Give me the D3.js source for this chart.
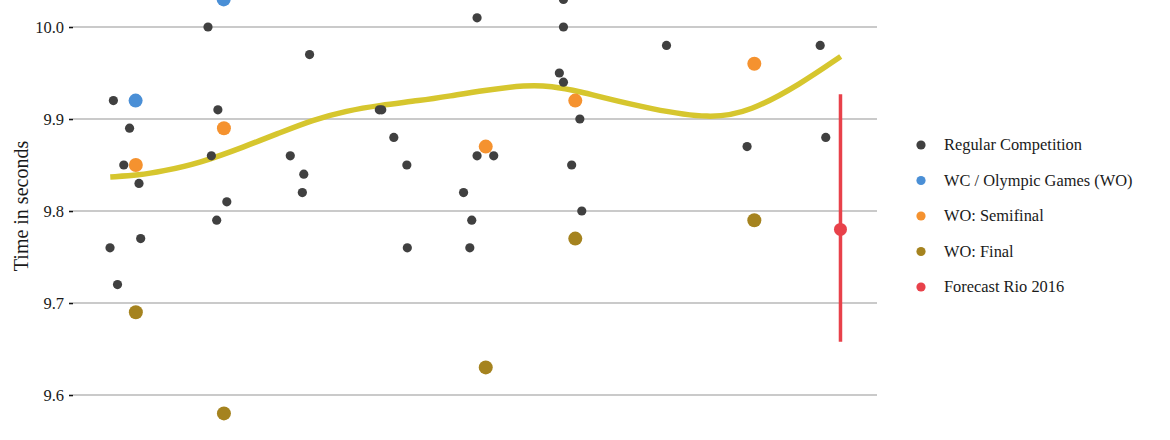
<!DOCTYPE html>
<html>
<head>
<meta charset="utf-8">
<script src="https://cdn.jsdelivr.net/npm/d3@7"></script>
<style>
  body { margin: 0; background: #fff; }
  svg { display: block; font-family: "Liberation Serif", "Times New Roman", serif; }
  .tick text { font-family: "Liberation Serif", "Times New Roman", serif; }
</style>
</head>
<body>
<svg id="chart" width="1170" height="440"></svg>
<script>
// Bolt's 100m times, [date, seconds]
const regular = [
  ['2008-05-01', 9.76], ['2008-05-15', 9.92], ['2008-06-01', 9.72], ['2008-06-27', 9.85],
  ['2008-07-21', 9.89], ['2008-08-29', 9.83], ['2008-09-05', 9.77],
  ['2009-06-11', 10.00], ['2009-06-25', 9.86], ['2009-07-17', 9.79], ['2009-07-22', 9.91],
  ['2009-08-28', 9.81],
  ['2010-05-18', 9.86], ['2010-07-07', 9.82], ['2010-07-13', 9.84], ['2010-08-06', 9.97],
  ['2011-05-22', 9.91], ['2011-06-01', 9.91], ['2011-07-21', 9.88], ['2011-09-13', 9.85],
  ['2011-09-15', 9.76],
  ['2012-05-05', 9.82], ['2012-05-31', 9.76], ['2012-06-08', 9.79], ['2012-06-30', 10.01],
  ['2012-06-30', 9.86], ['2012-09-07', 9.86],
  ['2013-06-06', 9.95], ['2013-06-23', 10.03], ['2013-06-23', 10.00], ['2013-06-23', 9.94],
  ['2013-07-27', 9.85], ['2013-08-30', 9.90], ['2013-09-07', 9.80],
  ['2014-08-24', 9.98],
  ['2015-07-24', 9.87],
  ['2016-05-22', 9.98], ['2016-06-14', 9.88]
];
const worldOlympic = [['2008-08-15', 9.92], ['2009-08-15', 10.03]];
const semifinal = [['2008-08-16', 9.85], ['2009-08-16', 9.89], ['2012-08-05', 9.87],
  ['2013-08-11', 9.92], ['2015-08-23', 9.96]];
const final = [['2008-08-16', 9.69], ['2009-08-16', 9.58], ['2012-08-05', 9.63],
  ['2013-08-11', 9.77], ['2015-08-23', 9.79]];
const forecast = { date: '2016-08-14', time: 9.78, low: 9.658, high: 9.927 };

// smoothed trend
const trend = [
  ['2008-05-02', 9.837], ['2008-08-31', 9.839], ['2008-11-30', 9.843], ['2009-05-07', 9.852],
  ['2009-11-10', 9.870], ['2010-04-04', 9.885], ['2010-08-18', 9.899], ['2011-01-07', 9.909],
  ['2011-05-24', 9.915], ['2011-11-06', 9.920], ['2012-03-10', 9.925], ['2012-07-24', 9.931],
  ['2013-01-23', 9.937], ['2013-04-29', 9.936], ['2013-09-13', 9.929], ['2013-11-22', 9.924],
  ['2014-06-18', 9.911], ['2015-02-22', 9.900], ['2015-08-06', 9.908], ['2016-03-01', 9.938],
  ['2016-08-15', 9.968]
];

const yTicks = [9.6, 9.7, 9.8, 9.9, 10.0];
const legendLabels = ['Regular Competition', 'WC / Olympic Games (WO)', 'WO: Semifinal', 'WO: Final', 'Forecast Rio 2016'];
const colors = ['#404040', '#4a8fd6', '#f5922f', '#a5831f', '#e8414a'];

const parse = d3.timeParse('%Y-%m-%d');
const svg = d3.select('#chart');

const allDates = [].concat(regular, worldOlympic, semifinal, final).map(d => parse(d[0]));
allDates.push(parse(forecast.date));
const ext = d3.extent(allDates);
const pad = (ext[1] - ext[0]) * 0.05;

const x = d3.scaleTime()
  .domain([new Date(+ext[0] - pad), new Date(+ext[1] + pad)])
  .range([73.5, 877]);
const y = d3.scaleLinear()
  .domain([9.6, 10.0])
  .range([395, 27]);

// gridlines
svg.append('g')
  .selectAll('line')
  .data(yTicks)
  .enter()
  .append('line')
  .attr('x1', 73).attr('x2', 877)
  .attr('y1', d => y(d)).attr('y2', d => y(d))
  .style('stroke', '#b8b8b8')
  .style('stroke-width', 1.6);

// y axis
const yAxis = svg.append('g')
  .attr('transform', 'translate(73,0)')
  .call(d3.axisLeft(y).tickValues(yTicks).tickFormat(d3.format('.1f')).tickSize(4).tickPadding(5))
  .attr('font-family', '"Liberation Serif", serif')
  .attr('font-size', 16.5);
yAxis.select('.domain').remove();
yAxis.selectAll('.tick line').style('stroke', '#111').style('stroke-width', 1.6);
yAxis.selectAll('.tick text').style('fill', '#1a1a1a');

svg.append('text')
  .attr('transform', 'translate(28,206) rotate(-90)')
  .attr('text-anchor', 'middle')
  .style('font-size', '20px')
  .style('fill', '#1a1a1a')
  .text('Time in seconds');

// trend curve
const line = d3.line()
  .x(d => x(parse(d[0])))
  .y(d => y(d[1]))
  .curve(d3.curveBasis);
svg.append('path')
  .datum(trend)
  .attr('d', line)
  .style('fill', 'none')
  .style('stroke', '#d6c62e')
  .style('stroke-width', 5.5);

// points
const drawPoints = (data, color, r) => {
  svg.append('g')
    .selectAll('circle')
    .data(data)
    .enter()
    .append('circle')
    .attr('cx', d => x(parse(d[0])))
    .attr('cy', d => y(d[1]))
    .attr('r', r)
    .style('fill', color);
};
drawPoints(regular, colors[0], 4.6);
drawPoints(worldOlympic, colors[1], 7);
drawPoints(semifinal, colors[2], 7);
drawPoints(final, colors[3], 7);

// forecast with interval
svg.append('line')
  .attr('x1', x(parse(forecast.date))).attr('x2', x(parse(forecast.date)))
  .attr('y1', y(forecast.high)).attr('y2', y(forecast.low))
  .style('stroke', colors[4])
  .style('stroke-width', 3.5);
svg.append('circle')
  .attr('cx', x(parse(forecast.date)))
  .attr('cy', y(forecast.time))
  .attr('r', 6.5)
  .style('fill', colors[4]);

// legend
const legend = svg.append('g')
  .selectAll('g')
  .data(legendLabels)
  .enter()
  .append('g')
  .attr('transform', (d, i) => `translate(921,${145 + i * 35.5})`);
legend.append('circle')
  .attr('r', 4.6)
  .style('fill', (d, i) => colors[i]);
legend.append('text')
  .attr('x', 23)
  .attr('dy', '0.32em')
  .style('font-size', '16.4px')
  .style('fill', '#1a1a1a')
  .text(d => d);
</script>
</body>
</html>
